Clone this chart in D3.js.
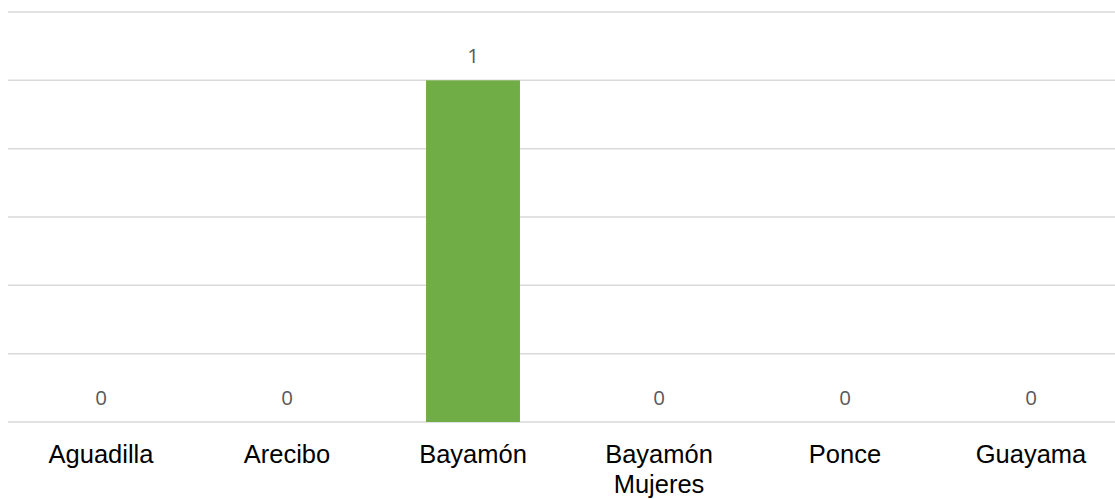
<!DOCTYPE html>
<html>
<head>
<meta charset="utf-8">
<script src="https://cdn.jsdelivr.net/npm/d3@7"></script>
<style>
  html, body { margin: 0; padding: 0; background: #fff; }
  svg { display: block; overflow: hidden; }
</style>
</head>
<body>
<svg id="chart" width="1115" height="499"></svg>
<script>
const categories = ["Aguadilla", "Arecibo", "Bayamón", "Bayamón Mujeres", "Ponce", "Guayama"];
const values = [0, 0, 1, 0, 0, 0];
const yTicks = [0, 0.2, 0.4, 0.6, 0.8, 1, 1.2];

const svg = d3.select("#chart");
const x = d3.scaleBand().domain(categories).range([8, 1124]).paddingInner(0).paddingOuter(0);
const y = d3.scaleLinear().domain([0, 1.2]).range([422, 12]);

// gridlines
svg.append("g").selectAll("line").data(yTicks).join("line")
  .attr("x1", 8).attr("x2", 1124)
  .attr("y1", d => y(d)).attr("y2", d => y(d))
  .attr("stroke", "#d9d9d9").attr("stroke-width", 1.5);

const barW = x.bandwidth() * 0.505;
svg.append("g").selectAll("rect").data(values).join("rect")
  .attr("x", (d, i) => x(categories[i]) + x.bandwidth() / 2 - barW / 2)
  .attr("width", barW)
  .attr("y", d => y(d))
  .attr("height", d => y(0) - y(d))
  .attr("fill", "#70AD47");

// data labels
svg.append("g").selectAll("text").data(values).join("text")
  .attr("x", (d, i) => x(categories[i]) + x.bandwidth() / 2)
  .attr("y", d => y(d) - 17.5)
  .attr("text-anchor", "middle")
  .attr("font-family", "'Open Sans', sans-serif")
  .attr("font-size", "20.5px")
  .attr("fill", "#595959")
  .text(d => d);

// category axis labels with wrapping
const lab = svg.append("g").selectAll("text").data(categories).join("text")
  .attr("x", d => x(d) + x.bandwidth() / 2)
  .attr("y", 463)
  .attr("text-anchor", "middle")
  .attr("font-family", "'Liberation Sans', Arial, sans-serif")
  .attr("font-size", "25.5px")
  .attr("fill", "#000");

lab.each(function(d) {
  const t = d3.select(this);
  t.text(d);
  if (this.getComputedTextLength() > x.bandwidth() - 10) {
    const words = d.split(" ");
    t.text(null);
    words.forEach((w, i) => {
      t.append("tspan").attr("x", x(d) + x.bandwidth() / 2)
        .attr("dy", i === 0 ? 0 : 30).text(w);
    });
  }
});
</script>
</body>
</html>
